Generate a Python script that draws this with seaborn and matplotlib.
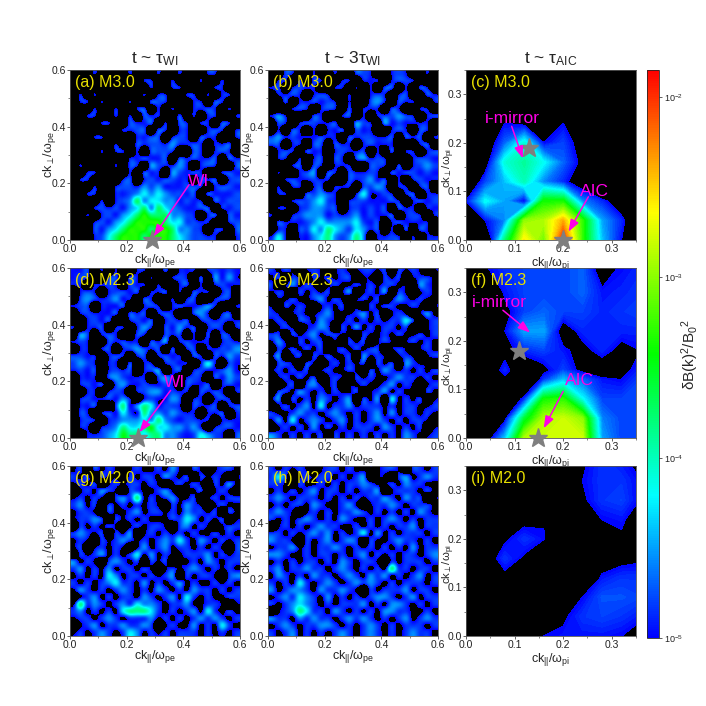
import numpy as np
import matplotlib
matplotlib.use("Agg")
import matplotlib.pyplot as plt
import seaborn as sns

# level codes used in the noisy panels, read by eye, top row first
levels_sparse = [-5.8, -4.93, -4.78, -4.55, -4.25, -3.75, -3.35]
levels_mid = [-5.8, -4.96, -4.8, -4.55, -4.25, -3.85, -3.5]
levels_dense = [-5.8, -5.08, -4.84, -4.58, -4.28, -3.85, -3.5]

panel_a = ["000100001000100100011000", "000000000011001000100100", "000000000001001100001100",
           "010100000010110011010110", "011010001002210001102100", "000100100120101001121010",
           "001100101021100201011001", "000011002112010210110210", "000000011220210110012101",
           "000110000112201210211001", "000000100212213112101120", "000010110102221002101210",
           "000000001121120212112021", "010000102103211310121002", "001100001021103212100121",
           "011000012012122110212012", "000100122132311122101221", "001100112343432212021112",
           "000010123534433121102122", "000121213453543211220112", "001012134565553321012021",
           "000121345666654422110012", "000213456665665332101102", "000124566656665432211001"]
panel_b = ["002100100100221001210010", "011010210011011101221000", "120121100110101022010210",
           "011210121001001210120021", "002011212101002310211001", "000121012102011102100110",
           "131000210012010122321012", "021012211200321031211110", "010210101120211001210210",
           "231211121102122112021201", "220110220211012111000120", "012102110121120102011012",
           "011010120210231210001221", "000120210111002210201232", "010012302102112102122121",
           "001211211002123120101211", "010110120111022320110120", "011002232100141121012011",
           "000122342101221112101212", "011012332201212120211011", "100123331212312112012101",
           "021112343333421201211110", "011022435432431201020210", "141011345323530112101011"]
panel_d = ["112010100110020111012121", "121001202101001210203131", "110112102110100120101211",
           "012101221201120102110120", "023212311021001012001210", "122011120012101211231001",
           "012111202120121002310120", "001212001212012120121211", "101120110131021312012101",
           "032012100210021201020210", "121002121102130121110121", "011012012321202012011223",
           "221101210120121102102132", "232101102011012110141021", "121201212012301201211231",
           "011102321110231012102132", "012120231121121021120121", "001101210123312110212101",
           "012112131012113201101210", "011200251354122102112012", "021012142153323211011201",
           "012101233343532122110111", "011012354456443323101221", "001123465545533212432102"]
panel_e = ["212101210121122120212101", "120210212122011021201221", "201312101211212122110321",
           "121021212013012130210121", "011211231210121201321211", "102121012120102122112101",
           "210121123111231201210131", "121022132112121212242012", "012101232021312122120012",
           "220212312211021121211212", "131021220102120121012121", "021212120121212201210121",
           "130120212112031210121012", "022102101212120212032110", "121212012112102132121212",
           "012121201210212112322121", "101202311201121123121012", "022132121211201231211021",
           "130212132123021304121201", "012123141223122212122112", "211232212321212313122121",
           "131412321231212321212210", "012121312121222132121201", "321212120212121212132112"]
panel_g = ["120212101211213102101221", "212021102122132120212101", "121201212212101212102131",
           "012132102211231011201210", "121210232512123112012122", "231202121212102132101211",
           "122102112312212132212021", "122320212121112243121201", "021212101212210231210122",
           "232120213012121212112121", "121021232121232421321212", "120121210131231221212102",
           "021231212413121122231212", "312102321202120112132122", "231213122121012123212121",
           "121214312212123021221023", "212123422131212312112121", "132121232121321213221212",
           "012312122132123142121122", "152321232433212231122101", "231212145554212123142121",
           "122123212223121212323212", "012312232232012113121421", "121232124312121222121212"]
panel_h = ["212121012212111122102212", "242012122121230110231232", "221021121212232112132211",
           "121212312212122301222121", "232122212121212232132201", "121221321123101223212221",
           "232101212122321212121321", "212123212132112123212122", "012121232211212121223122",
           "221212323121241312122212", "322102123123202112322121", "122312122321212121213122",
           "332112122121231212122123", "121212212132122102122212", "231223221232121215221221",
           "132121322123213231212312", "212142123212323212122212", "312332132232102122231221",
           "123243213121212332123122", "212343212122231213321212", "012354221321212133221121",
           "322132322123232121231232", "123212233212123212122212", "212312121232123212123221"]

# log10 of the AIC panels on the coarse k grid, bottom row first
k_par = [0, .04, .08, .12, .16, .2, .24, .28, .32, .36]
k_perp = [0, .04, .08, .12, .16, .2, .24, .28, .32, .36]
k_perp_f = [0, .04, .08, .12, .14, .18, .22, .26, .3, .36]

panel_c = [[-6, -5.6, -3.8, -2.6, -3.1, -1.95, -3.3, -4.4, -5.0, -5.6],
           [-5.3, -5.0, -4.6, -3.0, -2.9, -2.4, -3.3, -4.5, -4.9, -5.5],
           [-5.0, -4.2, -4.5, -5.05, -3.4, -3.4, -4.6, -4.9, -5.3, -6],
           [-5.5, -4.8, -4.4, -4.0, -4.6, -4.9, -5.3, -6, -6, -6],
           [-6, -5.2, -4.1, -3.9, -4.2, -4.7, -5.1, -6, -6, -6],
           [-6, -5.3, -4.7, -4.1, -5.0, -4.8, -5.2, -6, -6, -6],
           [-6, -6, -5.0, -5.1, -5.6, -5.0, -5.5, -6, -6, -6],
           [-6, -6, -6, -6, -6, -5.6, -6, -6, -6, -6],
           [-6, -6, -6, -6, -6, -6, -6, -6, -6, -6],
           [-6, -6, -6, -6, -6, -6, -6, -6, -6, -6]]
panel_f = [[-6, -5.3, -4.4, -2.9, -2.8, -2.8, -2.8, -4.5, -4.8, -4.8],
           [-6, -6, -5.1, -3.6, -2.9, -2.8, -3.0, -4.6, -4.8, -4.8],
           [-6, -6, -5.5, -4.9, -3.4, -3.3, -4.2, -4.8, -4.8, -4.8],
           [-6, -5.6, -5.1, -5.6, -4.85, -4.4, -4.7, -4.95, -5.0, -4.8],
           [-6, -5.3, -4.9, -5.3, -5.1, -4.8, -5.1, -5.2, -5.1, -4.9],
           [-6, -5.6, -5.1, -4.9, -4.8, -4.95, -5.1, -4.9, -5.1, -5.0],
           [-6, -6, -5.0, -4.5, -4.5, -5.2, -4.9, -4.9, -4.9, -4.9],
           [-6, -6, -5.1, -4.8, -4.7, -4.8, -4.8, -4.9, -4.85, -4.8],
           [-6, -5.6, -4.95, -4.8, -4.8, -4.8, -4.7, -4.95, -4.9, -4.85],
           [-6, -5.0, -4.85, -4.8, -4.8, -4.8, -4.7, -5.3, -5.0, -4.9]]
panel_i = [[-6, -6, -6, -6, -5.0, -4.95, -4.95, -4.95, -5.0, -5.2],
           [-6, -6, -6, -6, -5.6, -5.05, -4.85, -4.8, -4.85, -4.95],
           [-6, -6, -6, -6, -6, -5.6, -5.0, -4.75, -4.75, -4.8],
           [-6, -6, -5.1, -5.6, -6, -6, -5.6, -4.95, -4.85, -4.85],
           [-6, -5.2, -4.85, -5.05, -5.6, -6, -6, -5.2, -5.1, -5.05],
           [-6, -5.6, -5.05, -4.85, -4.98, -5.6, -5.6, -5.1, -5.05, -5.6],
           [-6, -6, -5.6, -5.1, -5.02, -5.6, -5.3, -5.0, -4.95, -5.2],
           [-6, -6, -6, -6, -6, -5.6, -5.05, -4.85, -4.8, -5.02],
           [-6, -6, -6, -6, -6, -6, -5.0, -4.85, -4.85, -5.0],
           [-6, -6, -6, -6, -6, -6, -5.05, -4.85, -4.95, -5.1]]

sns.set_theme(style="ticks")
plt.rcParams["font.family"] = ["Liberation Sans", "DejaVu Sans"]
plt.rcParams["mathtext.fontset"] = "custom"
plt.rcParams["mathtext.rm"] = "Liberation Sans"
plt.rcParams["mathtext.it"] = "Liberation Sans"
plt.rcParams["mathtext.fallback"] = "stixsans"
plt.rcParams["mathtext.default"] = "regular"

MAGENTA = "#ff00e6"
YELLOW = "#e8e000"
GRAY = "#7f7f7f"
VMIN, VMAX = -5, -1.85

cmap = sns.blend_palette(["#0000ff", "#00ffff", "#00ff00", "#ffff00", "#ff0000"], n_colors=256, as_cmap=True)
cmap.set_under("black")
norm = matplotlib.colors.Normalize(VMIN, VMAX)

fig = plt.figure(figsize=(7.06, 7.06), dpi=100)


def add_panel(left, top):
    ax = fig.add_axes([left / 706, 1 - (top + 170) / 706, 170 / 706, 170 / 706])
    ax.set_facecolor("black")
    for spine in ax.spines.values():
        spine.set_linewidth(0.6)
        spine.set_color("#555555")
    return ax


def style_axes(ax, ticks, minor, tail, label_x, label_y, pad, ysize):
    ax.set_xlim(0, ticks[-1] if tail == "pe" else 0.35)
    ax.set_ylim(0, ticks[-1] if tail == "pe" else 0.35)
    ax.set_xticks(ticks)
    ax.set_yticks(ticks)
    ax.set_xticks(minor, minor=True)
    ax.set_yticks(minor, minor=True)
    ax.tick_params(labelsize=7.5, length=2, width=0.5, pad=1, colors="#222222")
    ax.tick_params(which="minor", length=1.2, width=0.4)
    ax.set_xlabel(r"ck$_{||}$/$\omega_{p%s}$" % tail[1], fontsize=9, labelpad=pad)
    ax.set_ylabel(r"ck$_{\perp}$/$\omega_{p%s}$" % tail[1], fontsize=ysize)
    ax.yaxis.set_label_coords(label_x, label_y)


def noise_panel(rows, levels, left, top, label):
    ax = add_panel(left, top)
    grid = np.array([[levels[int(c)] for c in row.ljust(24, "0")[:24]] for row in rows])
    ax.imshow(grid, cmap=cmap, norm=norm, extent=(0, 0.6, 0, 0.6), origin="upper",
              interpolation="catrom", aspect="auto")
    style_axes(ax, [0, 0.2, 0.4, 0.6], [0.1, 0.3, 0.5], "pe", -0.07, 0.5, -1.5, 9)
    ax.set_xticklabels(["0.0", "0.2", "0.4", "0.6"])
    ax.set_yticklabels(["0.0", "0.2", "0.4", "0.6"])
    ax.text(0.03, 0.9, label, transform=ax.transAxes, color=YELLOW, fontsize=11.5)
    return ax


def aic_panel(values, perp, left, top, label):
    ax = add_panel(left, top)
    filled = ax.contourf(k_par, perp, np.array(values), levels=np.linspace(VMIN, VMAX, 80),
                         cmap=cmap, norm=norm)
    filled.set_edgecolor("face")
    filled.set_linewidth(0.3)
    style_axes(ax, [0, 0.1, 0.2, 0.3], [0.05, 0.15, 0.25, 0.35], "pi", -0.053, 0.425, 0.5, 8.2)
    ax.set_xticklabels(["0.0", "0.1", "0.2", "0.3"])
    ax.set_yticklabels(["0.0", "0.1", "0.2", "0.3"])
    ax.text(0.03, 0.9, label, transform=ax.transAxes, color=YELLOW, fontsize=11.5)
    return ax


def mark(ax, star, text, text_xy, tail, head):
    ax.plot(*star, marker="*", ms=14, color=GRAY, mec=GRAY, clip_on=False, zorder=6)
    ax.text(*text_xy, text, color=MAGENTA, fontsize=12.5, zorder=7)
    ax.annotate("", xy=head, xytext=tail, zorder=7,
                arrowprops=dict(arrowstyle="-|>,head_width=0.22,head_length=0.6", color=MAGENTA, lw=1.1,
                                shrinkA=0, shrinkB=0))


ax_a = noise_panel(panel_a, levels_sparse, 70, 70, "(a) M3.0")
ax_b = noise_panel(panel_b, levels_mid, 268, 70, "(b) M3.0")
ax_c = aic_panel(panel_c, k_perp, 466, 70, "(c) M3.0")
ax_d = noise_panel(panel_d, levels_mid, 70, 268, "(d) M2.3")
ax_e = noise_panel(panel_e, levels_dense, 268, 268, "(e) M2.3")
ax_f = aic_panel(panel_f, k_perp_f, 466, 268, "(f) M2.3")
ax_g = noise_panel(panel_g, levels_dense, 70, 466, "(g) M2.0")
ax_h = noise_panel(panel_h, levels_dense, 268, 466, "(h) M2.0")
ax_i = aic_panel(panel_i, k_perp, 466, 466, "(i) M2.0")

mark(ax_a, (0.29, 0.0), "WI", (0.415, 0.19), (0.42, 0.195), (0.295, 0.012))
mark(ax_d, (0.24, 0.0), "WI", (0.33, 0.18), (0.355, 0.168), (0.245, 0.02))
mark(ax_c, (0.13, 0.19), "i-mirror", (0.038, 0.24), (0.094, 0.234), (0.117, 0.168))
mark(ax_c, (0.2, 0.0), "AIC", (0.234, 0.09), (0.252, 0.089), (0.211, 0.017))
mark(ax_f, (0.11, 0.18), "i-mirror", (0.013, 0.27), (0.076, 0.263), (0.132, 0.217))
mark(ax_f, (0.148, 0.0), "AIC", (0.204, 0.109), (0.2, 0.096), (0.16, 0.02))

ax_a.set_title(r"t ~ $\tau_{WI}$", fontsize=12.5, pad=5)
ax_b.set_title(r"t ~ 3$\tau_{WI}$", fontsize=12.5, pad=5)
ax_c.set_title(r"t ~ $\tau_{AIC}$", fontsize=12.5, pad=5)

cax = fig.add_axes([647 / 706, 1 - 638 / 706, 12 / 706, 568 / 706])
bar = fig.colorbar(matplotlib.cm.ScalarMappable(norm=norm, cmap=cmap), cax=cax)
bar.set_ticks([-5, -4, -3, -2])
bar.set_ticklabels([r"10$^{-5}$", r"10$^{-4}$", r"10$^{-3}$", r"10$^{-2}$"])
bar.ax.tick_params(labelsize=6.5, length=2, width=0.5, pad=1.5, colors="#222222")
bar.outline.set_linewidth(0.6)
bar.set_label(r"$\delta$B(k)$^2$/B$_0$$^2$", fontsize=11, labelpad=-3)

fig.savefig("out.png", dpi=100)
